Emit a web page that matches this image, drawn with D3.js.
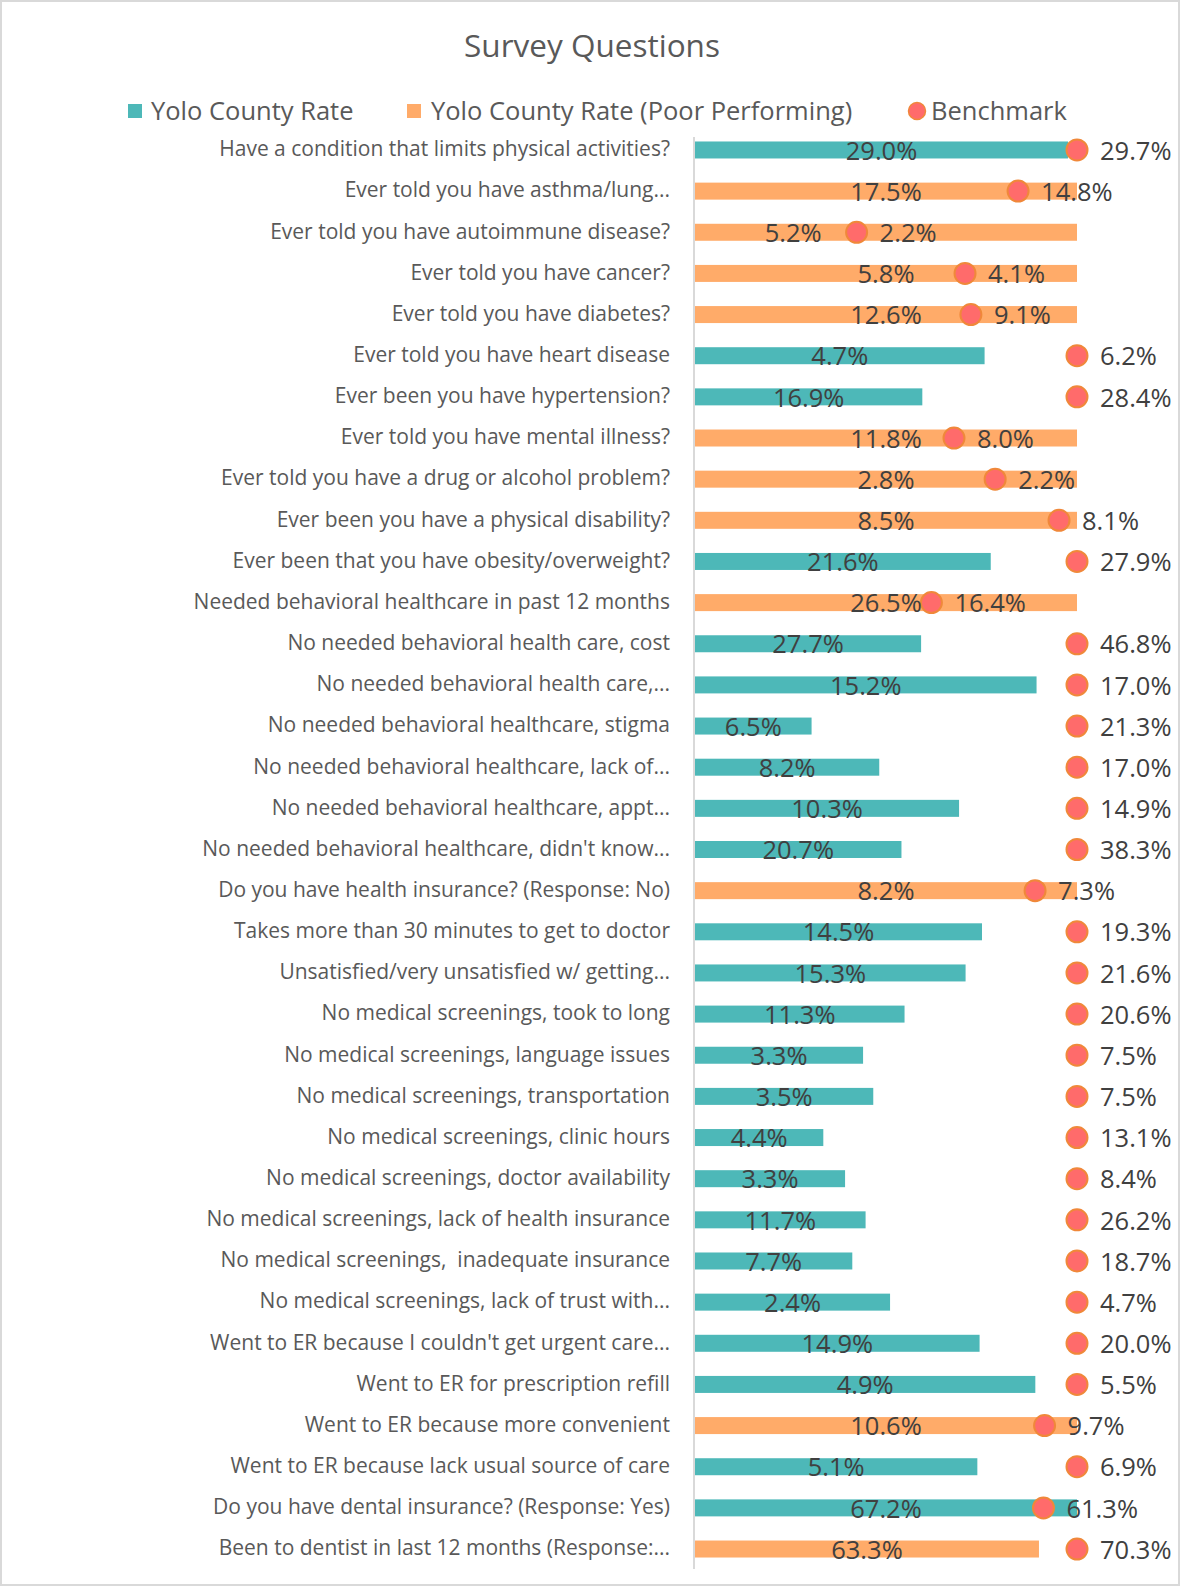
<html>
<head>
<script src="https://d3js.org/d3.v7.min.js"></script>
<style>
  body { margin: 0; background: #fff; }
  svg { display: block; font-family: 'Open Sans', sans-serif; }
</style>
</head>
<body>
<svg width="1181" height="1587"></svg>
<script>
// question labels, top to bottom
var questions = [
  "Have a condition that limits physical activities?",
  "Ever told you have asthma/lung...",
  "Ever told you have autoimmune disease?",
  "Ever told you have cancer?",
  "Ever told you have diabetes?",
  "Ever told you have heart disease",
  "Ever been you have hypertension?",
  "Ever told you have mental illness?",
  "Ever told you have a drug or alcohol problem?",
  "Ever been you have a physical disability?",
  "Ever been that you have obesity/overweight?",
  "Needed behavioral healthcare in past 12 months",
  "No needed behavioral health care, cost",
  "No needed behavioral health care,...",
  "No needed behavioral healthcare, stigma",
  "No needed behavioral healthcare, lack of...",
  "No needed behavioral healthcare, appt...",
  "No needed behavioral healthcare, didn't know...",
  "Do you have health insurance? (Response: No)",
  "Takes more than 30 minutes to get to doctor",
  "Unsatisfied/very unsatisfied w/ getting...",
  "No medical screenings, took to long",
  "No medical screenings, language issues",
  "No medical screenings, transportation",
  "No medical screenings, clinic hours",
  "No medical screenings, doctor availability",
  "No medical screenings, lack of health insurance",
  "No medical screenings,  inadequate insurance",
  "No medical screenings, lack of trust with...",
  "Went to ER because I couldn't get urgent care...",
  "Went to ER for prescription refill",
  "Went to ER because more convenient",
  "Went to ER because lack usual source of care",
  "Do you have dental insurance? (Response: Yes)",
  "Been to dentist in last 12 months (Response:..."
];

var countyRate = [29.0, 17.5, 5.2, 5.8, 12.6, 4.7, 16.9, 11.8, 2.8, 8.5, 21.6, 26.5, 27.7, 15.2, 6.5, 8.2, 10.3, 20.7, 8.2, 14.5, 15.3, 11.3, 3.3, 3.5, 4.4, 3.3, 11.7, 7.7, 2.4, 14.9, 4.9, 10.6, 5.1, 67.2, 63.3];

var benchmark = [29.7, 14.8, 2.2, 4.1, 9.1, 6.2, 28.4, 8.0, 2.2, 8.1, 27.9, 16.4, 46.8, 17.0, 21.3, 17.0, 14.9, 38.3, 7.3, 19.3, 21.6, 20.6, 7.5, 7.5, 13.1, 8.4, 26.2, 18.7, 4.7, 20.0, 5.5, 9.7, 6.9, 61.3, 70.3];

// 1 = poor performing (orange bar)
var poorPerforming = [0, 1, 1, 1, 1, 0, 0, 1, 1, 1, 0, 1, 0, 0, 0, 0, 0, 0, 1, 0, 0, 0, 0, 0, 0, 0, 0, 0, 0, 0, 0, 1, 0, 0, 1];

var legendLabels = ["Yolo County Rate", "Yolo County Rate (Poor Performing)", "Benchmark"];

var teal = "#4db8b8", orange = "#ffab69", dotFill = "#ff6b6b", dotStroke = "#f0883a";
var textCol = "#404040", labelCol = "#595959";

var rows = questions.map(function(q, i) {
  var m = Math.max(countyRate[i], benchmark[i]);
  return { q: q, rate: countyRate[i], bench: benchmark[i], poor: poorPerforming[i],
           rRel: countyRate[i] / m, bRel: benchmark[i] / m };
});

var svg = d3.select("svg");

// outer border
svg.append("rect").attr("x", 1).attr("y", 1).attr("width", 1178).attr("height", 1584)
  .attr("fill", "none").attr("stroke", "#d9d9d9").attr("stroke-width", 2);

// title
svg.append("text").attr("x", 592).attr("y", 57).attr("text-anchor", "middle")
  .attr("font-size", 31.5).attr("fill", labelCol).text("Survey Questions");

// each row is scaled to the larger of rate and benchmark
var x = d3.scaleLinear().domain([0, 1]).range([695, 1077]);
var y = d3.scaleBand().domain(questions).range([129.4, 1569.6])
  .paddingInner(0.587).paddingOuter(0.2935);
var bh = y.bandwidth();

// legend
var lg = svg.append("g").attr("font-size", 25.5).attr("fill", labelCol);
lg.append("rect").attr("x", 128).attr("y", 104).attr("width", 14).attr("height", 14).attr("fill", teal);
lg.append("text").attr("x", 151).attr("y", 120).text(legendLabels[0]);
lg.append("rect").attr("x", 407).attr("y", 104).attr("width", 14).attr("height", 14).attr("fill", orange);
lg.append("text").attr("x", 431).attr("y", 120).text(legendLabels[1]);
lg.append("circle").attr("cx", 917).attr("cy", 111).attr("r", 8.5).attr("fill", dotFill)
  .attr("stroke", dotStroke).attr("stroke-width", 1.5);
lg.append("text").attr("x", 931).attr("y", 120).text(legendLabels[2]);

// category labels
svg.append("g").selectAll("text").data(rows).enter().append("text")
  .attr("x", 670)
  .attr("y", function(d) { return y(d.q) + bh / 2; })
  .attr("dy", "0.3em")
  .attr("text-anchor", "end")
  .attr("font-size", 21)
  .attr("fill", labelCol)
  .style("white-space", "pre")
  .text(function(d) { return d.q; });

// axis line
svg.append("line").attr("x1", 694).attr("x2", 694).attr("y1", 137).attr("y2", 1569)
  .attr("stroke", "#d9d9d9").attr("stroke-width", 2);

// bars
svg.append("g").selectAll("rect").data(rows).enter().append("rect")
  .attr("x", x(0))
  .attr("y", function(d) { return y(d.q); })
  .attr("width", function(d) { return x(d.rRel) - x(0); })
  .attr("height", bh)
  .attr("fill", function(d) { return d.poor ? orange : teal; });

// benchmark dots
svg.append("g").selectAll("circle").data(rows).enter().append("circle")
  .attr("cx", function(d) { return x(d.bRel); })
  .attr("cy", function(d) { return y(d.q) + bh / 2; })
  .attr("r", 10.5)
  .attr("fill", dotFill)
  .attr("stroke", dotStroke)
  .attr("stroke-width", 2);

var fmt = function(v) { return v.toFixed(1) + "%"; };

// rate labels, centred in the bar; pushed left if the dot sits on them
svg.append("g").selectAll("text").data(rows).enter().append("text")
  .attr("y", function(d) { return y(d.q) + bh / 2; })
  .attr("dy", "0.38em")
  .attr("text-anchor", "middle")
  .attr("font-size", 25.5)
  .attr("fill", textCol)
  .text(function(d) { return fmt(d.rate); })
  .attr("x", function(d) {
    var cx = (x(0) + x(d.rRel)) / 2;
    var w = this.getComputedTextLength();
    var dot = x(d.bRel);
    if (dot > cx - w / 2 - 8 && dot < cx + w / 2) cx = dot - 35 - w / 2;
    return cx;
  });

// benchmark labels, right of the dot
svg.append("g").selectAll("text").data(rows).enter().append("text")
  .attr("x", function(d) { return x(d.bRel) + 23; })
  .attr("y", function(d) { return y(d.q) + bh / 2; })
  .attr("dy", "0.38em")
  .attr("font-size", 25.5)
  .attr("fill", textCol)
  .text(function(d) { return fmt(d.bench); });
</script>
</body>
</html>
